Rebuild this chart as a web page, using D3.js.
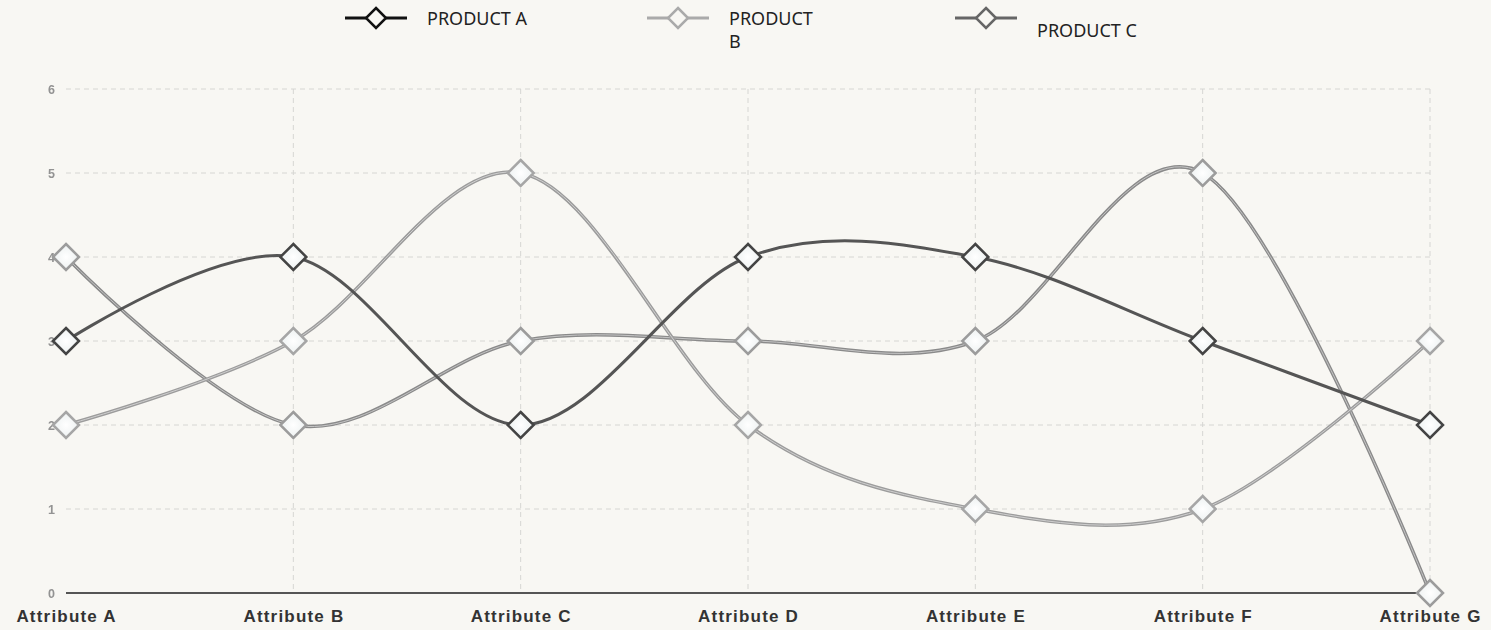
<!DOCTYPE html>
<html>
<head>
<meta charset="utf-8">
<script src="https://cdn.jsdelivr.net/npm/d3@7"></script>
<style>
  html, body { margin: 0; padding: 0; background: #f8f7f3; }
  svg { display: block; }
</style>
</head>
<body>
<svg id="chart" width="1491" height="630"></svg>
<script>
// Categories along the x axis
const categories = ["Attribute A", "Attribute B", "Attribute C", "Attribute D", "Attribute E", "Attribute F", "Attribute G"];
// Scores per product
const productA = [3, 4, 2, 4, 4, 3, 2];
const productB = [2, 3, 5, 2, 1, 1, 3];
const productC = [4, 2, 3, 3, 3, 5, 0];
const seriesNames = ["PRODUCT A", "PRODUCT B", "PRODUCT C"];
const yTicks = [0, 1, 2, 3, 4, 5, 6];

const series = [
  { name: seriesNames[0], values: productA, line: "#555", inner: null, width: 3, marker: "#444", legend: "#111" },
  { name: seriesNames[1], values: productB, line: "#9c9c9c", inner: "#cfcfcf", width: 3.5, marker: "#a6a6a6", legend: "#aaa" },
  { name: seriesNames[2], values: productC, line: "#8a8a8a", inner: "#c4c4c4", width: 3.5, marker: "#9c9c9c", legend: "#666" }
];

const svg = d3.select("#chart");
const plotLeft = 66, plotRight = 1430, plotTop = 89, plotBottom = 593;

const x = d3.scalePoint().domain(categories).range([plotLeft, plotRight]);
const y = d3.scaleLinear().domain([0, 6]).range([plotBottom, plotTop]);

const defs = svg.append("defs");
const grad = defs.append("radialGradient").attr("id", "mfill");
grad.append("stop").attr("offset", "0%").attr("stop-color", "#ffffff");
grad.append("stop").attr("offset", "100%").attr("stop-color", "#edf1f1");
defs.append("filter").attr("id", "soft")
  .append("feGaussianBlur").attr("stdDeviation", 0.6);

// Grid
const grid = svg.append("g").attr("stroke", "#d6d6d3").attr("stroke-width", 1).attr("stroke-dasharray", "5,4");
grid.selectAll("line.h").data(yTicks.filter(d => d > 0)).join("line")
  .attr("x1", plotLeft).attr("x2", plotRight)
  .attr("y1", d => y(d)).attr("y2", d => y(d));
grid.selectAll("line.v").data(categories.slice(1)).join("line")
  .attr("x1", d => x(d)).attr("x2", d => x(d))
  .attr("y1", plotTop).attr("y2", plotBottom);

// Y tick labels
svg.append("g").attr("filter", "url(#soft)")
  .selectAll("text").data(yTicks).join("text")
  .attr("x", 55).attr("y", d => y(d) + 4.5)
  .attr("text-anchor", "end")
  .attr("font-family", "Liberation Sans, Arial, sans-serif")
  .attr("font-weight", "bold").attr("font-size", 12.5)
  .attr("fill", "#939393")
  .text(d => d);

// X axis baseline
svg.append("line").attr("x1", plotLeft).attr("x2", plotRight)
  .attr("y1", plotBottom).attr("y2", plotBottom)
  .attr("stroke", "#555").attr("stroke-width", 2);

// X labels
svg.append("g").selectAll("text").data(categories).join("text")
  .attr("x", d => x(d) + 0.6).attr("y", 622)
  .attr("text-anchor", "middle")
  .attr("font-family", "Liberation Sans, Arial, sans-serif")
  .attr("font-weight", "bold").attr("font-size", 17)
  .attr("letter-spacing", 1.2)
  .attr("fill", "#333")
  .text(d => d);

// Lines
const lineGen = d3.line()
  .x((d, i) => x(categories[i]))
  .y(d => y(d))
  .curve(d3.curveCardinal.tension(0));

const lines = svg.append("g").attr("fill", "none");
series.slice().reverse().forEach(s => {
  lines.append("path").attr("d", lineGen(s.values))
    .attr("stroke", s.line).attr("stroke-width", s.width);
  if (s.inner) {
    lines.append("path").attr("d", lineGen(s.values))
      .attr("stroke", s.inner).attr("stroke-width", 1);
  }
});

// Diamond markers
const diamond = r => `M0,${-r}L${r},0L0,${r}L${-r},0Z`;
series.slice().reverse().forEach(s => {
  svg.append("g").selectAll("path").data(s.values).join("path")
    .attr("transform", (d, i) => `translate(${x(categories[i])},${y(d)})`)
    .attr("d", diamond(13))
    .attr("fill", "url(#mfill)")
    .attr("stroke", s.marker).attr("stroke-width", 2.5);
});

// Legend
const legendItems = [
  { s: series[0], x0: 345, lines: ["PRODUCT A"], ty: 25 },
  { s: series[1], x0: 647, lines: ["PRODUCT", "B"], ty: 25 },
  { s: series[2], x0: 955, lines: ["PRODUCT C"], ty: 37 }
];
const legend = svg.append("g");
legendItems.forEach(it => {
  const g = legend.append("g");
  g.append("line").attr("x1", it.x0).attr("x2", it.x0 + 62)
    .attr("y1", 18).attr("y2", 18)
    .attr("stroke", it.s.legend).attr("stroke-width", 3);
  g.append("path").attr("transform", `translate(${it.x0 + 31},18)`)
    .attr("d", diamond(10))
    .attr("fill", "#f8f7f3").attr("stroke", it.s.legend).attr("stroke-width", 2.5);
  const t = g.append("text")
    .attr("x", it.x0 + 82).attr("y", it.ty)
    .attr("font-family", "Noto Sans, Open Sans, sans-serif")
    .attr("font-size", 18).attr("fill", "#222");
  it.lines.forEach((ln, k) => {
    t.append("tspan").attr("x", it.x0 + 82).attr("dy", k === 0 ? 0 : 23).text(ln);
  });
});
</script>
</body>
</html>
